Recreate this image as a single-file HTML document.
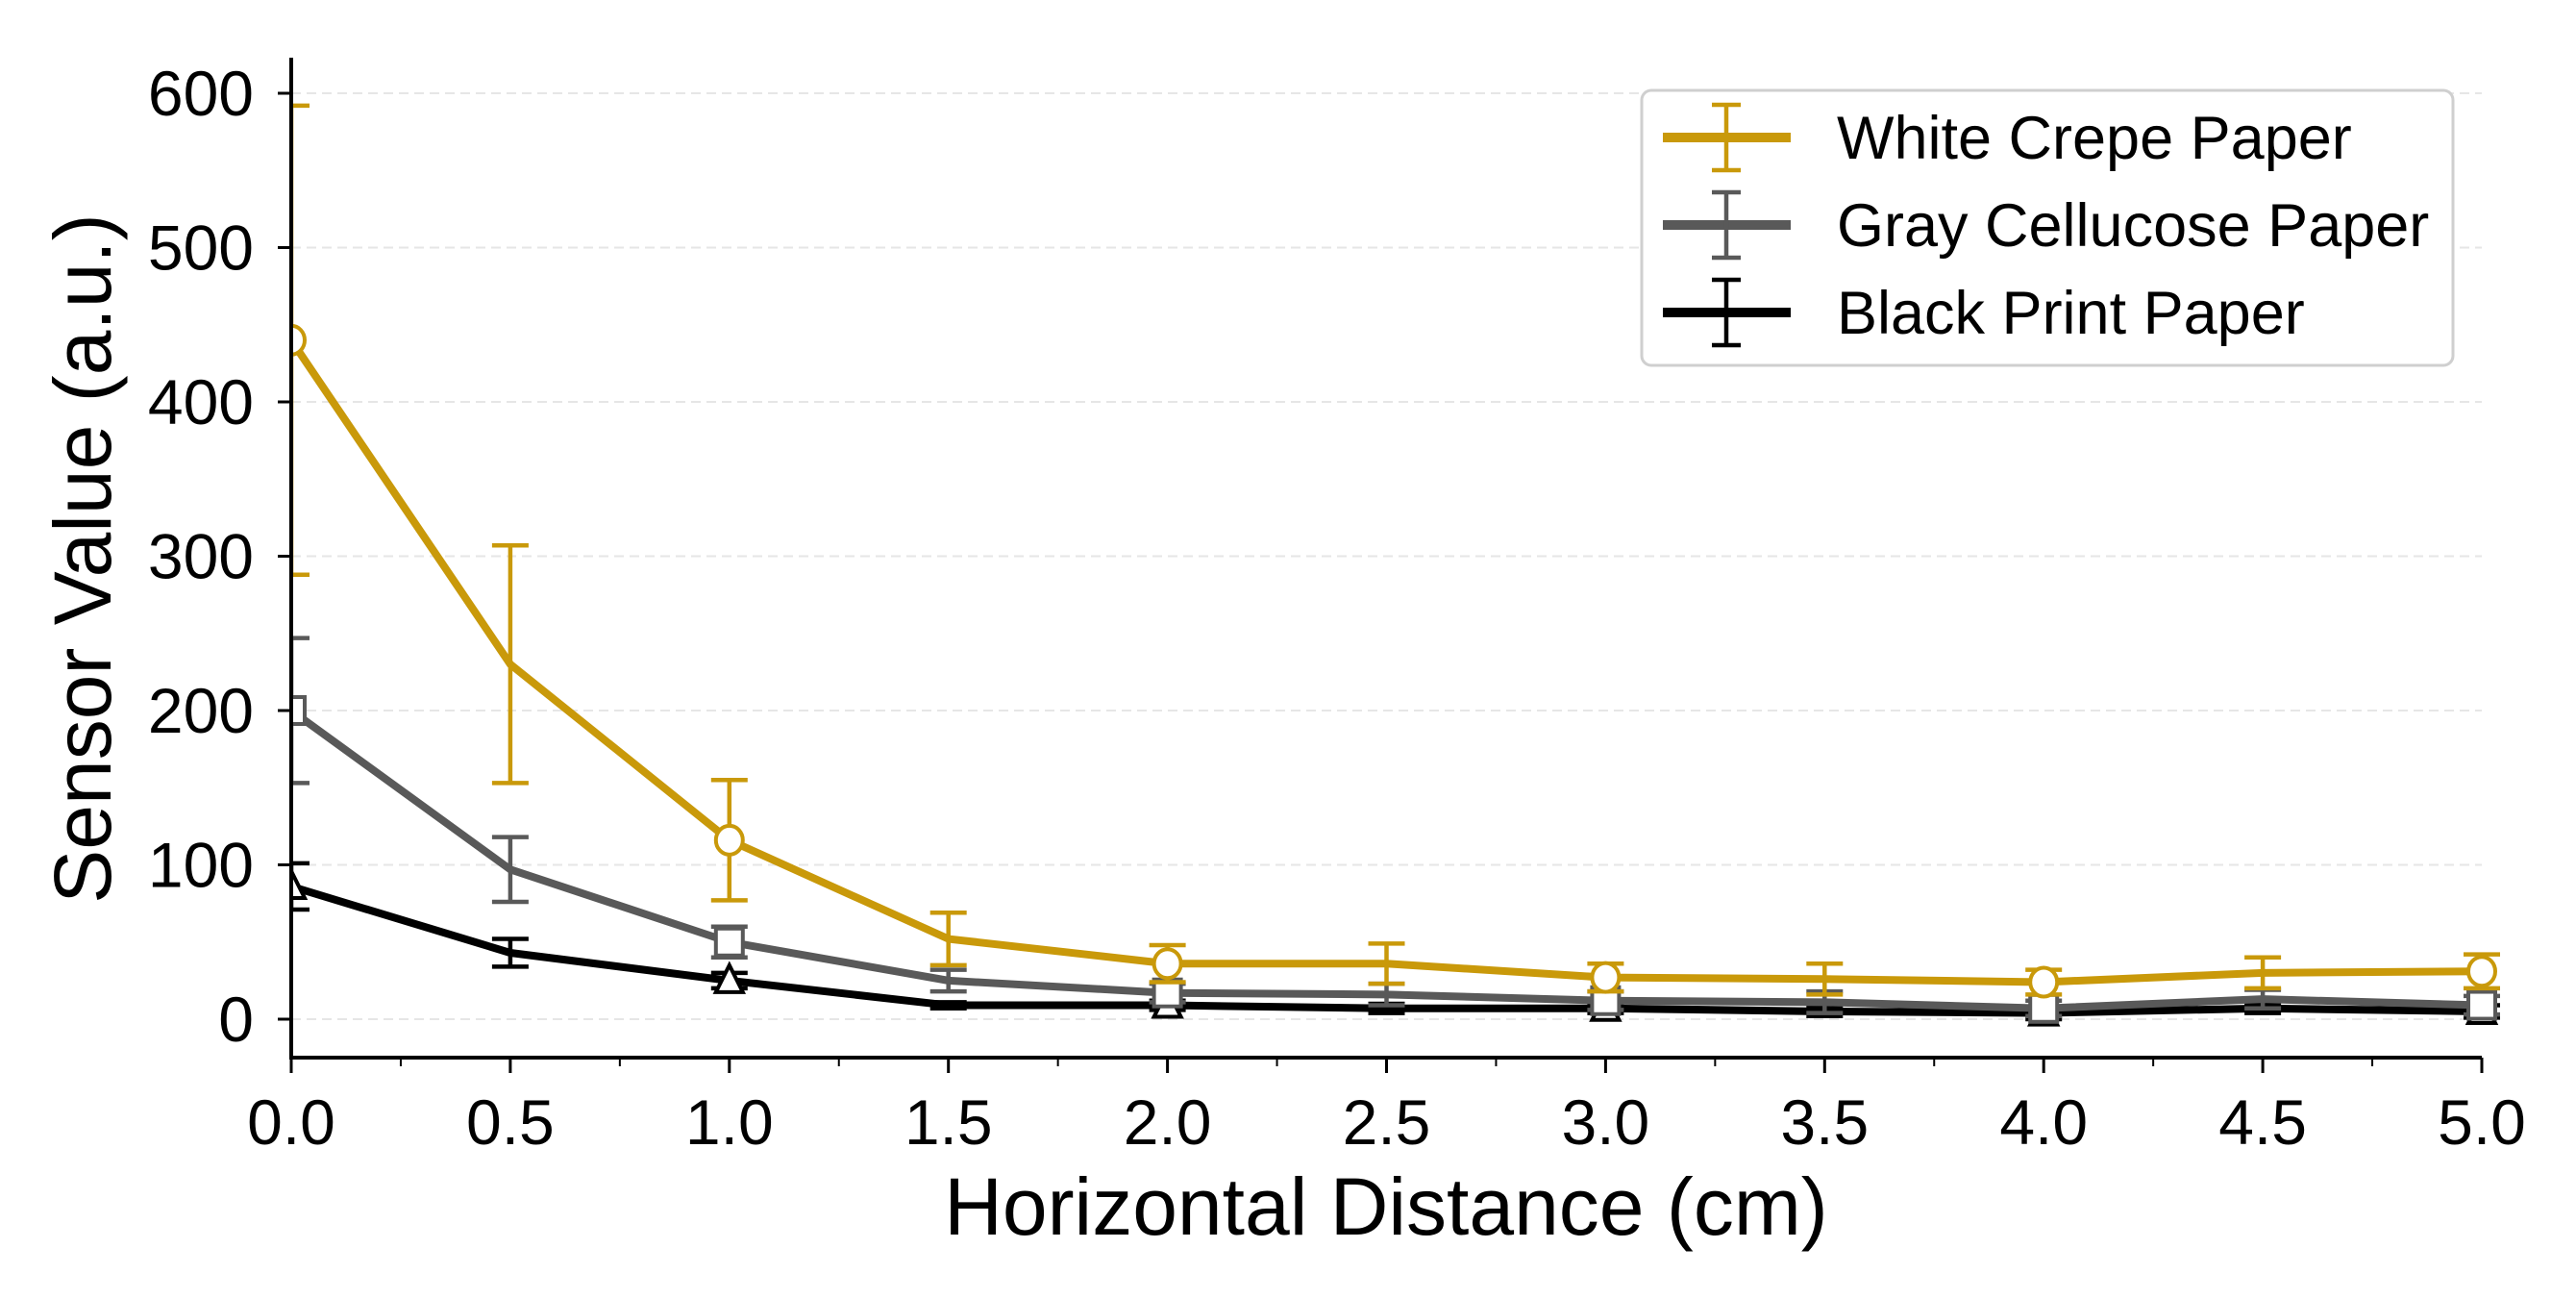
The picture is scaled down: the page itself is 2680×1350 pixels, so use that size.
<!DOCTYPE html>
<html><head><meta charset="utf-8"><style>
html,body{margin:0;padding:0;background:#fff;}
svg{display:block;font-family:"Liberation Sans",sans-serif;}
</style></head><body>
<svg id="chart" width="2680" height="1350" viewBox="0 0 2680 1350" xmlns="http://www.w3.org/2000/svg">
<defs><clipPath id="plotclip"><rect x="303" y="40" width="2320" height="1060"/></clipPath></defs>
<g id="grid"></g>
<g id="series" clip-path="url(#plotclip)"></g>
<g id="axes"></g>
<text x="1442" y="1284" font-size="84" text-anchor="middle">Horizontal Distance (cm)</text>
<text transform="translate(115,581) rotate(-90)" font-size="84" text-anchor="middle">Sensor Value (a.u.)</text>
<g id="legend">
<rect x="1708" y="94" width="844" height="286" rx="10" fill="#fff" stroke="#cfcfcf" stroke-width="3"/>
</g>
</svg>
<script>
const xValues=[0,0.5,1,1.5,2,2.5,3,3.5,4,4.5,5];
const whiteMean=[440,230,116,52,36,36,27,26,24,30,31];
const whiteErr=[152,77,39,17,12,13,9,10,8,10,11];
const grayMean=[200,97,50,25,17,16,12,11,7,13,9];
const grayErr=[47,21,10,7,6,7,6,7,5,6,6];
const blackMean=[86,43,25,9,9,7,7,5,4,7,5];
const blackErr=[15,9,5,2,3,3,3,3,4,3,4];
const xTicks=["0.0","0.5","1.0","1.5","2.0","2.5","3.0","3.5","4.0","4.5","5.0"];
const yTicks=[0,100,200,300,400,500,600];
const seriesNames=["White Crepe Paper","Gray Cellucose Paper","Black Print Paper"];

const NS="http://www.w3.org/2000/svg";
const X0=303,X1=2582,Y0=1060,Y600=97;
const sx=v=>X0+(v-0)/(5-0)*(X1-X0);
const sy=v=>Y0+(v/600)*(Y600-Y0);
function mk(tag,attrs,parent){const e=document.createElementNS(NS,tag);for(const k in attrs)e.setAttribute(k,attrs[k]);parent.appendChild(e);return e;}
const grid=document.getElementById('grid'),axes=document.getElementById('axes'),ser=document.getElementById('series'),leg=document.getElementById('legend');

yTicks.forEach(t=>{
  const g=mk('line',{x1:X0,x2:X1,y1:sy(t),y2:sy(t),stroke:'#e6e6e6','stroke-width':2,'stroke-dasharray':'10,6'},grid);
  
  
  const tk=mk('line',{x1:X0-14,x2:X0,y1:sy(t),y2:sy(t),stroke:'#000','stroke-width':3},axes);
  
  
  const lb=mk('text',{x:264,y:sy(t)+23,'font-size':66,'text-anchor':'end'},axes);
  lb.textContent=t;
  
  
});
xTicks.forEach((t,i)=>{
  const v=i*0.5;
  const tk=mk('line',{x1:sx(v),x2:sx(v),y1:1100,y2:1116,stroke:'#000','stroke-width':3},axes);
  
  
  if(i<xTicks.length-1){
    const mt=mk('line',{x1:sx(v+0.25),x2:sx(v+0.25),y1:1100,y2:1109,stroke:'#000','stroke-width':2},axes);
    
    
  }
  const lb=mk('text',{x:sx(v),y:1190,'font-size':66,'text-anchor':'middle'},axes);
  lb.textContent=t;
  
  
});
const ls=mk('line',{x1:X0,x2:X0,y1:60,y2:1100,stroke:'#000','stroke-width':4},axes);


const bs=mk('line',{x1:X0-2,x2:X1,y1:1100,y2:1100,stroke:'#000','stroke-width':4},axes);



function marker(type,cx,cy,color,parent){
  let e;
  if(type==='circle') e=mk('ellipse',{cx:cx,cy:cy,rx:14,ry:15,fill:'#fff',stroke:color,'stroke-width':4},parent);
  else if(type==='square') e=mk('rect',{x:cx-14,y:cy-14,width:28,height:28,fill:'#fff',stroke:color,'stroke-width':4},parent);
  else e=mk('polygon',{points:`${cx},${cy-16} ${cx-14},${cy+12} ${cx+14},${cy+12}`,fill:'#fff',stroke:color,'stroke-width':4},parent);
  return e;
}
function drawSeries(means,errs,color,mtype,name){
  const g=mk('g',{},ser);
  
  
  means.forEach((m,i)=>{
    const x=sx(xValues[i]),lo=sy(m-errs[i]),hi=sy(m+errs[i]);
    const eb=mk('path',{d:`M${x},${lo}V${hi}M${x-19},${lo}H${x+19}M${x-19},${hi}H${x+19}`,stroke:color,'stroke-width':4.5,fill:'none'},g);
    
    
  });
  const pl=mk('polyline',{points:means.map((m,i)=>sx(xValues[i])+','+sy(m)).join(' '),stroke:color,'stroke-width':8,fill:'none','stroke-linejoin':'round'},g);
  
  
  means.forEach((m,i)=>{
    if(i%2!==0) return;
    const mm=marker(mtype,sx(xValues[i]),sy(m),color,g);
    
    
  });
}
drawSeries(blackMean,blackErr,'#000000','triangle','black-print');
drawSeries(grayMean,grayErr,'#595959','square','gray-cellucose');
drawSeries(whiteMean,whiteErr,'#c9990a','circle','white-crepe');

const legColors=['#c9990a','#595959','#000000'];
const legY=[143,234,325];
seriesNames.forEach((n,i)=>{
  const g=mk('g',{},leg);
  
  
  const y=legY[i],c=legColors[i];
  mk('line',{x1:1730,x2:1863,y1:y,y2:y,stroke:c,'stroke-width':10},g);
  mk('path',{d:`M1796,${y-34}V${y+34}M1781,${y-34}H1811M1781,${y+34}H1811`,stroke:c,'stroke-width':4.5,fill:'none'},g);
  const t=mk('text',{x:1911,y:y+22,'font-size':63},g);
  t.textContent=n;
  
  
});
</script>
</body></html>
